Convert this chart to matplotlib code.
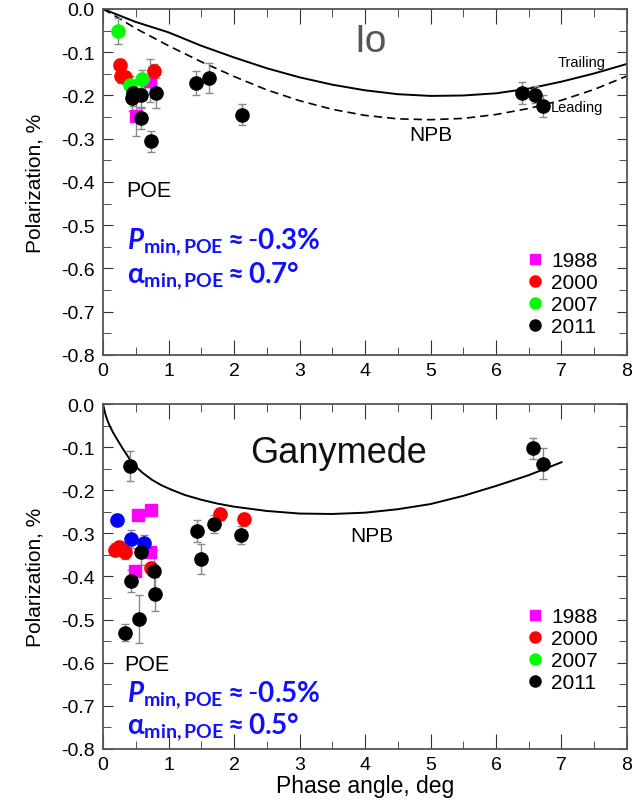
import numpy as np
import matplotlib
matplotlib.use("Agg")
import matplotlib.pyplot as plt
from matplotlib.ticker import MultipleLocator, FormatStrFormatter
from matplotlib.lines import Line2D

plt.rcParams['font.family'] = ['Liberation Sans', 'DejaVu Sans']
plt.rcParams['mathtext.fontset'] = 'custom'
plt.rcParams['mathtext.rm'] = 'Lato'
plt.rcParams['mathtext.bf'] = 'Lato:bold'
plt.rcParams['mathtext.it'] = 'Lato:italic'
plt.rcParams['mathtext.bfit'] = 'Lato:bold:italic'

# ---- Io ----
io_curve_x = [0, 0.25, 0.5, 1, 1.5, 2, 2.5, 3, 3.5, 4, 4.5, 5, 5.5, 6, 6.5, 7, 7.5, 8]
io_trailing = [0, -0.015, -0.03, -0.054, -0.085, -0.112, -0.137, -0.158, -0.175,
               -0.188, -0.197, -0.201, -0.200, -0.195, -0.184, -0.168, -0.149, -0.127]
io_leading = [0, -0.022, -0.045, -0.085, -0.122, -0.156, -0.187, -0.212, -0.232,
              -0.246, -0.254, -0.256, -0.253, -0.244, -0.230, -0.211, -0.186, -0.155]

io_1988_x = [0.71, 0.50]
io_1988_y = [-0.166, -0.248]
io_1988_e = [0.05, 0.045]
io_2000_x = [0.26, 0.27, 0.33, 0.78]
io_2000_y = [-0.130, -0.155, -0.158, -0.143]
io_2000_e = [0.015, 0.015, 0.015, 0.015]
io_2007_x = [0.23, 0.41, 0.60]
io_2007_y = [-0.050, -0.175, -0.162]
io_2007_e = [0.03, 0.02, 0.02]
io_2011_x = [0.46, 0.44, 0.58, 0.81, 0.58, 0.74, 1.42, 1.62, 2.12, 6.39, 6.59, 6.72]
io_2011_y = [-0.194, -0.206, -0.198, -0.195, -0.252, -0.306, -0.171, -0.160, -0.244,
             -0.194, -0.198, -0.224]
io_2011_e = [0.03, 0.03, 0.03, 0.035, 0.025, 0.025, 0.028, 0.035, 0.025, 0.025, 0.02, 0.025]

# ---- Ganymede ----
gan_curve_x = [0, 0.03, 0.06, 0.1, 0.15, 0.2, 0.3, 0.4, 0.5, 0.6, 0.75, 0.9, 1.05, 1.25,
               1.5, 1.75, 2, 2.5, 3, 3.5, 4, 4.5, 5, 5.5, 6, 6.5, 7]
gan_curve_y = [0, -0.020, -0.035, -0.050, -0.065, -0.078, -0.103, -0.126, -0.145,
               -0.159, -0.176, -0.189, -0.199, -0.211, -0.222, -0.231, -0.238, -0.248,
               -0.254, -0.255, -0.252, -0.244, -0.232, -0.213, -0.190, -0.165, -0.135]

gan_1988_x = [0.53, 0.74, 0.71, 0.49]
gan_1988_y = [-0.258, -0.246, -0.343, -0.388]
gan_1988_e = [0.008, 0.008, 0.012, 0.012]
gan_2000_x = [1.79, 2.16, 0.18, 0.25, 0.34, 0.74]
gan_2000_y = [-0.255, -0.267, -0.338, -0.332, -0.344, -0.381]
gan_2000_e = [0.015, 0.015, 0.015, 0.015, 0.015, 0.015]
gan_blue_x = [0.22, 0.42, 0.62]
gan_blue_y = [-0.269, -0.313, -0.323]
gan_blue_e = [0.015, 0.02, 0.02]
gan_2011_x = [0.41, 1.70, 1.44, 2.11, 0.58, 1.49, 0.78, 0.42, 0.80, 0.55, 0.34, 6.56, 6.71]
gan_2011_y = [-0.143, -0.278, -0.294, -0.304, -0.343, -0.360, -0.388, -0.410, -0.441,
              -0.499, -0.530, -0.103, -0.138]
gan_2011_e = [0.035, 0.02, 0.025, 0.02, 0.03, 0.035, 0.05, 0.025, 0.04, 0.055, 0.02,
              0.025, 0.035]

years = ['1988', '2000', '2007', '2011']
year_colors = ['#ff00ff', '#ff0000', '#00ff00', '#000000']
year_markers = ['s', 'o', 'o', 'o']

BLUE = '#1010ff'


def pts(ax, x, y, e, color, marker):
    ms = 8 if marker == 's' else 9.5
    ax.errorbar(x, y, yerr=e, fmt=marker, color=color, mec=color, ms=ms,
                ecolor='#8a8a8a', elinewidth=1, capsize=3, capthick=1, zorder=3)


def style_axes(ax):
    ax.set_xlim(0, 8)
    ax.set_ylim(-0.8, 0)
    ax.xaxis.set_major_locator(MultipleLocator(1))
    ax.xaxis.set_minor_locator(MultipleLocator(0.5))
    ax.yaxis.set_major_locator(MultipleLocator(0.1))
    ax.yaxis.set_minor_locator(MultipleLocator(0.05))
    ax.yaxis.set_major_formatter(FormatStrFormatter('%.1f'))
    ax.tick_params(which='both', direction='in', top=True, right=True, labelsize=14,
                   color='#333333')
    ax.tick_params(axis='x', which='major', length=11, pad=5)
    ax.tick_params(axis='x', which='minor', length=6)
    ax.tick_params(axis='y', which='major', length=7, pad=6)
    ax.tick_params(axis='y', which='minor', length=6)
    for sp in ax.spines.values():
        sp.set_color('#555555')
        sp.set_linewidth(1.3)
    ax.set_ylabel('Polarization, %', fontsize=15, labelpad=12)


def add_legend(ax, anchor):
    handles = [Line2D([], [], ls='none', marker=m, color=c, ms=7 if m == 's' else 8)
               for m, c in zip(year_markers, year_colors)]
    ax.legend(handles, years, loc='lower right', bbox_to_anchor=anchor, frameon=False,
              fontsize=15, handletextpad=0.3, labelspacing=0.14, borderpad=0,
              handlelength=1.0)


fig = plt.figure(figsize=(6.37, 8.12), dpi=100)
ax1 = fig.add_axes([0.1617, 0.5616, 0.8226, 0.4261])
ax2 = fig.add_axes([0.1617, 0.0764, 0.8226, 0.4248])

# Io panel
ax1.plot(io_curve_x, io_trailing, color='black', lw=1.4, zorder=2)
ax1.plot(io_curve_x, io_leading, color='black', lw=1.2, ls=(0, (5, 3)), zorder=2)
pts(ax1, io_1988_x, io_1988_y, io_1988_e, '#ff00ff', 's')
pts(ax1, io_2000_x, io_2000_y, io_2000_e, '#ff0000', 'o')
pts(ax1, io_2007_x, io_2007_y, io_2007_e, '#00ff00', 'o')
pts(ax1, io_2011_x, io_2011_y, io_2011_e, '#000000', 'o')
style_axes(ax1)
ax1.text(4.08, -0.097, 'Io', fontsize=28, color='#555555', ha='center', va='baseline')
ax1.text(7.68, -0.132, 'Trailing', fontsize=10.5, ha='right', va='baseline')
ax1.text(6.84, -0.236, 'Leading', fontsize=10.5, ha='left', va='baseline')
ax1.text(5.0, -0.302, 'NPB', fontsize=15, ha='center', va='baseline')
ax1.text(0.35, -0.432, 'POE', fontsize=15.5, ha='left', va='baseline')
ax1.text(0.37, -0.538, r'$\mathbfit{P}_{\mathbf{min,POE}}\mathbf{\approx\text{-}0.3\%}$',
         fontsize=20, color=BLUE, ha='left', va='center')
ax1.text(0.37, -0.615, r'$\mathbf{\alpha}_{\mathbf{min,POE}}\mathbf{\approx0.7\degree}$',
         fontsize=20, color=BLUE, ha='left', va='center')
add_legend(ax1, (0.965, 0.025))

# Ganymede panel
ax2.plot(gan_curve_x, gan_curve_y, color='black', lw=1.4, zorder=2)
pts(ax2, gan_1988_x, gan_1988_y, gan_1988_e, '#ff00ff', 's')
pts(ax2, gan_2000_x, gan_2000_y, gan_2000_e, '#ff0000', 'o')
pts(ax2, gan_blue_x, gan_blue_y, gan_blue_e, '#0000ff', 'o')
pts(ax2, gan_2011_x, gan_2011_y, gan_2011_e, '#000000', 'o')
style_axes(ax2)
ax2.set_xlabel('Phase angle, deg', fontsize=16.5, labelpad=1)
ax2.text(3.6, -0.135, 'Ganymede', fontsize=26, color='#111111', ha='center', va='baseline')
ax2.text(4.1, -0.318, 'NPB', fontsize=15, ha='center', va='baseline')
ax2.text(0.33, -0.618, 'POE', fontsize=15.5, ha='left', va='baseline')
ax2.text(0.37, -0.672, r'$\mathbfit{P}_{\mathbf{min,POE}}\mathbf{\approx\text{-}0.5\%}$',
         fontsize=20, color=BLUE, ha='left', va='center')
ax2.text(0.37, -0.748, r'$\mathbf{\alpha}_{\mathbf{min,POE}}\mathbf{\approx0.5\degree}$',
         fontsize=20, color=BLUE, ha='left', va='center')
add_legend(ax2, (0.965, 0.135))

fig.savefig('out.png', dpi=100)
